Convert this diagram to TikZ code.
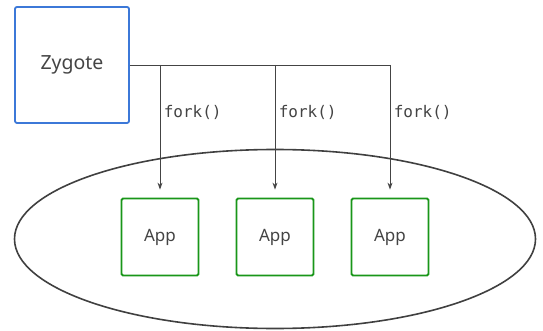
\documentclass[tikz,border=0pt]{standalone}
\usepackage{fontspec}
\setmainfont{Noto Sans}
\setmonofont{DejaVu Sans Mono}
\usetikzlibrary{arrows.meta,shapes.geometric}

\definecolor{zygblue}{RGB}{60,120,216}
\definecolor{appgreen}{RGB}{25,150,25}
\definecolor{linegray}{RGB}{68,68,68}

\begin{document}
\begin{tikzpicture}[x=1pt,y=-1pt,>={Stealth[length=7pt,width=5pt]},
  zygbox/.style={draw=zygblue,line width=1.8pt,rounded corners=2pt,minimum width=114pt,minimum height=116pt,text=linegray,font=\fontsize{19.5}{23}\selectfont},
  appbox/.style={draw=appgreen,line width=1.8pt,rounded corners=1.5pt,minimum width=77pt,minimum height=77pt,text=linegray,font=\fontsize{17}{20}\selectfont},
  conn/.style={draw=linegray,line width=0.9pt},
  forklabel/.style={right,text=linegray,font=\ttfamily\fontsize{16}{19}\selectfont}]
\useasboundingbox (0,0) rectangle (543,331);

\node[draw=black!75,line width=1.6pt,ellipse,inner sep=0pt,minimum width=521pt,minimum height=179pt] (pool) at (275,239) {};

\node[zygbox] (zyg) at (72,65) {Zygote};

\node[appbox] (app1) at (160,237) {App};
\node[appbox] (app2) at (275,237) {App};
\node[appbox] (app3) at (390,237) {App};

\draw[conn] (zyg.east) -- (app3.north |- zyg.east);
\foreach \a in {app1,app2,app3}{
    \draw[conn,->,shorten >=8pt] (\a.north |- zyg.east) -- node[forklabel,pos=0.36] {fork()} (\a.north);
}

\end{tikzpicture}
\end{document}
